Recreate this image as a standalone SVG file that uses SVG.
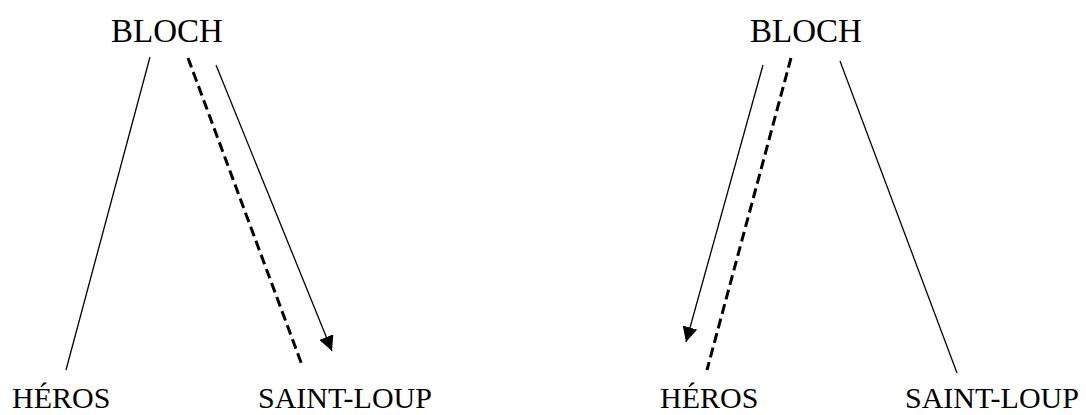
<svg xmlns="http://www.w3.org/2000/svg" width="1086" height="415" viewBox="0 0 1086 415">
<defs>
<style>
.t{font-family:"Liberation Serif","Times New Roman",serif;fill:#000}
.top{font-size:33px}
.bot{font-size:30px}
.solid{stroke:#000;stroke-width:1.3;fill:none}
.dash{stroke:#000;stroke-width:3;stroke-dasharray:10 5;fill:none}
</style>
<marker id="ah" viewBox="0 0 10 10" refX="10" refY="5" markerWidth="15" markerHeight="15" markerUnits="userSpaceOnUse" orient="auto">
<path d="M0,0 L10,5 L0,10 Z" fill="#000"/>
</marker>
</defs>
<g id="bloch-left"><text class="t top" x="111" y="42">BLOCH</text></g>
<g id="heros-left"><text class="t bot" x="12" y="408">HÉROS</text></g>
<g id="saintloup-left"><text class="t bot" x="258" y="408">SAINT-LOUP</text></g>
<g id="bloch-right"><text class="t top" x="750" y="42">BLOCH</text></g>
<g id="heros-right"><text class="t bot" x="660" y="408">HÉROS</text></g>
<g id="saintloup-right"><text class="t bot" x="905" y="408">SAINT-LOUP</text></g>
<g id="connectors">
<line class="solid" x1="150" y1="57" x2="66" y2="370"/>
<line class="dash" x1="188" y1="58" x2="302" y2="365"/>
<line class="solid" x1="216" y1="65" x2="332" y2="351" marker-end="url(#ah)"/>
<line class="solid" x1="763" y1="65" x2="686" y2="342" marker-end="url(#ah)"/>
<line class="dash" x1="791" y1="58" x2="707" y2="370"/>
<line class="solid" x1="840" y1="61" x2="957" y2="373"/>
</g>
</svg>
